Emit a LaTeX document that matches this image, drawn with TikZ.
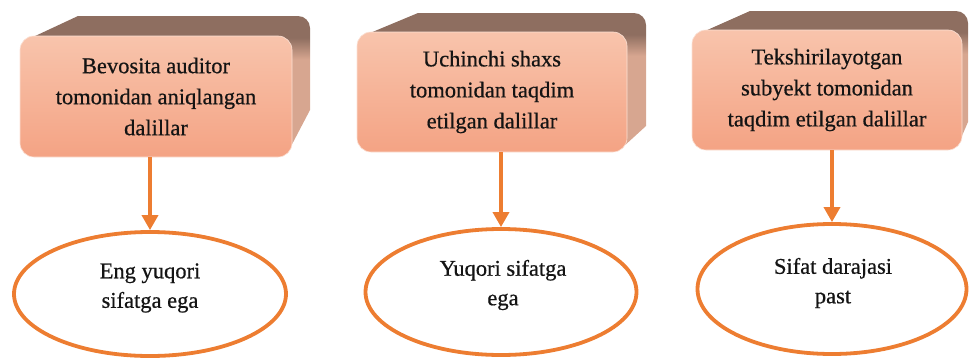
\documentclass[tikz,border=0pt]{standalone}
\usepackage{fontspec}
\setmainfont{Liberation Serif}[FakeBold=0.6]
\usetikzlibrary{shapes.geometric,arrows.meta}
\definecolor{orng}{HTML}{ED7D31}
\definecolor{slabbrn}{HTML}{8E6E60}
\definecolor{slabtan}{HTML}{D7A690}
\definecolor{ftop}{HTML}{F8C4AC}
\definecolor{fbot}{HTML}{F4A384}
\definecolor{txt}{HTML}{141414}
\pgfdeclareverticalshading{slabsh}{100bp}{color(0bp)=(slabtan); color(59bp)=(slabtan); color(67bp)=(slabbrn); color(100bp)=(slabbrn)}
% #1 fx1, #2 fy1, #3 fx2, #4 fy2, #5 bx1, #6 by1, #7 bx2, #8 sy
\newcommand\backslab[8]{%
  \shade[shading=slabsh] (#1+13,#2+1) -- (#5,#6) -- (#7-12,#6)
    to[out=0,in=90] (#7,#6+12) -- (#7,#8) -- (#3-4,#4-5) -- (#3-4,#2+4) -- cycle;
}
\tikzset{
  x=1pt, y=-1pt,
  front/.style={rectangle, rounded corners=14pt, top color=ftop, bottom color=fbot,
    draw=ftop!50!white, line width=0.6pt, align=center, text=txt,
    font=\fontsize{22.5}{31}\selectfont, inner sep=0pt},
  oval/.style={ellipse, draw=orng, line width=3.8pt, fill=white, inner sep=0pt},
  ovaltext/.style={align=center, text=txt, font=\fontsize{22.5}{29.5}\selectfont, inner sep=0pt},
  arr/.style={draw=orng, line width=3.5pt, -{Triangle[width=16pt,length=15pt]}}
}
\begin{document}
\begin{tikzpicture}
\useasboundingbox (0,0) rectangle (970,359);
% box 1
\backslab{20}{36}{292}{157}{78}{16}{310}{110}
\node[front, minimum width=272pt, minimum height=121pt] (b1) at (156,96.5)
  {Bevosita auditor\\tomonidan aniqlangan\\dalillar};
% box 2
\backslab{357}{32}{627}{152}{418}{13}{646}{126}
\node[front, minimum width=270pt, minimum height=120pt] (b2) at (492,92)
  {Uchinchi shaxs\\tomonidan taqdim\\etilgan dalillar};
% box 3
\backslab{692}{30}{962}{150}{750}{11}{968}{122}
\node[front, minimum width=270pt, minimum height=120pt] (b3) at (827,90)
  {Tekshirilayotgan\\subyekt tomonidan\\taqdim etilgan dalillar};
% ellipses
\node[oval, minimum width=272pt, minimum height=124pt] (e1) at (150,294) {};
\node[ovaltext] (t1) at (150,288) {Eng yuqori\\sifatga ega};
\node[oval, minimum width=271pt, minimum height=126pt] (e2) at (501,292) {};
\node[ovaltext] (t2) at (503,285) {Yuqori sifatga\\ega};
\node[oval, minimum width=269pt, minimum height=130pt] (e3) at (832,289) {};
\node[ovaltext] (t3) at (833,283) {Sifat darajasi\\past};
% arrows
\draw[arr] (e1.north |- b1.south) -- (e1.north);
\draw[arr] (e2.north |- b2.south) -- (e2.north);
\draw[arr] (e3.north |- b3.south) -- (e3.north);
\end{tikzpicture}
\end{document}
